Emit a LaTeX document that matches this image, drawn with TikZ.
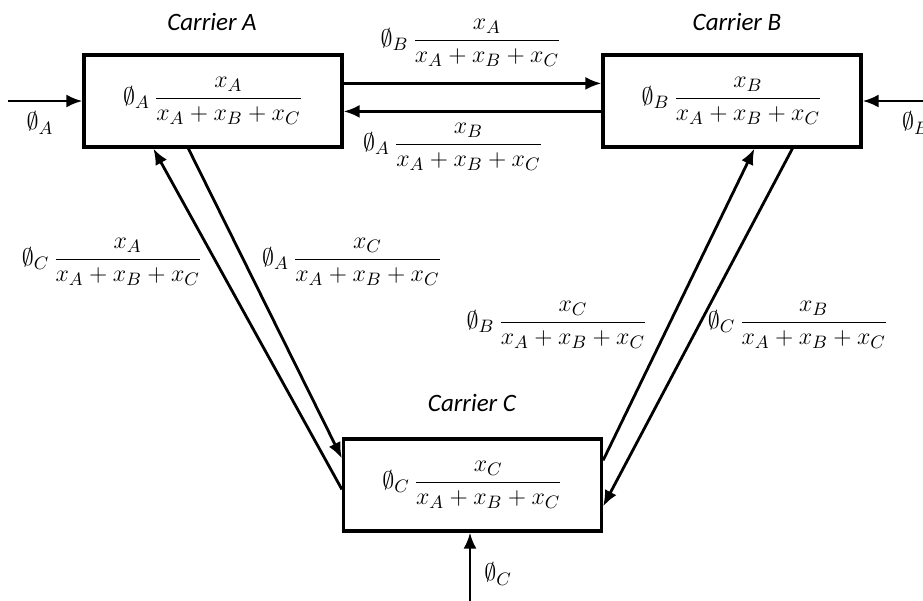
\documentclass[tikz,border=0pt]{standalone}
\usepackage{amsmath,amssymb}
\usepackage{fontspec}
\newfontfamily\carlito{Carlito}
\usetikzlibrary{arrows.meta,calc}
\newcommand{\fr}[2]{$\emptyset_{#1}\,\dfrac{x_{#2}}{x_A+x_B+x_C}$}
\begin{document}
\begin{tikzpicture}[x=0.5pt,y=-0.5pt,
  box/.style={draw,line width=1.6pt,minimum width=129pt,minimum height=46pt,inner sep=0pt,font=\fontsize{12.2}{14}\selectfont},
  lbl/.style={inner sep=0pt,font=\fontsize{12.2}{14}\selectfont},
  title/.style={inner sep=0pt,font=\fontsize{12.5}{14}\selectfont\carlito\itshape},
  conn/.style={line width=1.4pt,-{Latex[length=8pt,width=6.5pt]}}]
\useasboundingbox (0,0) rectangle (923,601);
\node[box] (A) at (213,101) {\fr{A}{A}};
\node[box] (B) at (732,101) {\fr{B}{B}};
\node[box] (C) at (472.5,485) {\fr{C}{C}};
\node[title] (tA) at (212,22) {Carrier A};
\node[title] (tB) at (737,22) {Carrier B};
\node[title] (tC) at (472,403) {Carrier C};
% inputs
\coordinate (inA) at (8,101);
\coordinate (inB) at (923,101);
\coordinate (inC) at (470,601);
\draw[conn] (inA) -- (A.west);
\draw[conn] (inB) -- (B.east);
\draw[conn] (inC) -- (inC |- C.south);
\node[lbl] (iA) at (40,123) {$\emptyset_A$};
\node[lbl] (iB) at (916,123) {$\emptyset_B$};
\node[lbl] (iC) at (498,574) {$\emptyset_C$};
% A <-> B
\draw[conn] ([yshift=-15pt]A.north east) -- ([yshift=-15pt]B.north west);
\draw[conn] ([yshift=-29pt]B.north west) -- ([yshift=-29pt]A.north east);
\node[lbl] (lAB) at (471,43) {\fr{B}{A}};
\node[lbl] (lBA) at (453,147) {\fr{A}{B}};
% A <-> C
\draw[conn] ([yshift=-26pt]C.north west) -- ([xshift=35.5pt]A.south west);
\draw[conn] ([xshift=53pt]A.south west) -- ([yshift=-10.5pt]C.north west);
\node[lbl] (lCA) at (112,262) {\fr{C}{A}};
\node[lbl] (lAC) at (352,262) {\fr{A}{C}};
% B <-> C
\draw[conn] ([yshift=-11.5pt]C.north east) -- ([xshift=76.5pt]B.south west);
\draw[conn] ([xshift=95.5pt]B.south west) -- ([yshift=-34.5pt]C.north east);
\node[lbl] (lCB) at (557,325) {\fr{B}{C}};
\node[lbl] (lBC) at (798,325) {\fr{C}{B}};
\end{tikzpicture}
\end{document}
